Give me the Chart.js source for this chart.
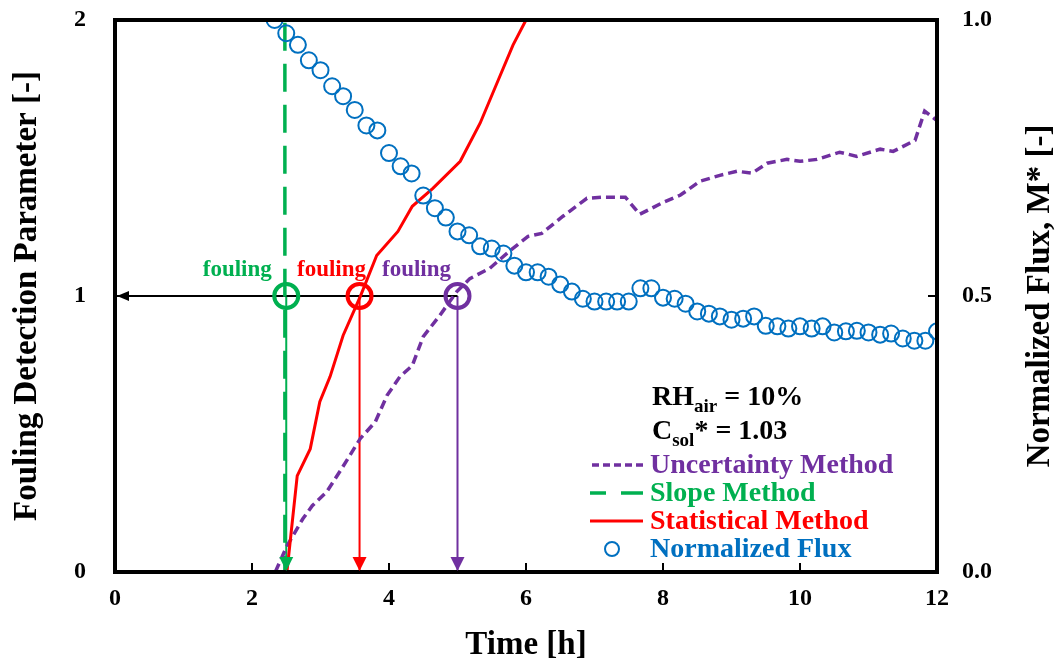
<!DOCTYPE html>
<html>
<head>
<meta charset="utf-8">
<title>Fouling Detection</title>
<script src="https://cdn.jsdelivr.net/npm/chart.js@4.4.1/dist/chart.umd.min.js"></script>
<style>
    html, body { margin: 0; padding: 0; background: #fff; }
    #contenedor { width: 1058px; height: 666px; }
</style>
</head>
<body>
<div id="contenedor"><canvas id="graficaFouling" width="1058" height="666"></canvas></div>
<script>
// Gráfica de detección de fouling: tres métodos + flujo normalizado

// Flujo normalizado M* (eje derecho), un punto cada ~10 min
const tiemposFlujo = [
    2.33, 2.50, 2.67, 2.83, 3.00, 3.17, 3.33, 3.50, 3.67, 3.83,
    4.00, 4.17, 4.33, 4.50, 4.67, 4.83, 5.00, 5.17, 5.33, 5.50,
    5.67, 5.83, 6.00, 6.17, 6.33, 6.50, 6.67, 6.83, 7.00, 7.17,
    7.33, 7.50, 7.67, 7.83, 8.00, 8.17, 8.33, 8.50, 8.67, 8.83,
    9.00, 9.17, 9.33, 9.50, 9.67, 9.83, 10.00, 10.17, 10.33, 10.50,
    10.67, 10.83, 11.00, 11.17, 11.33, 11.50, 11.67, 11.83, 12.00
];
const flujoNormalizado = [
    1.000, 0.976, 0.955, 0.927, 0.909, 0.880, 0.862, 0.837, 0.809, 0.800,
    0.759, 0.735, 0.722, 0.682, 0.659, 0.642, 0.617, 0.610, 0.590, 0.586,
    0.577, 0.555, 0.543, 0.543, 0.535, 0.521, 0.508, 0.495, 0.490, 0.490,
    0.490, 0.490, 0.514, 0.514, 0.497, 0.495, 0.486, 0.472, 0.468, 0.463,
    0.457, 0.459, 0.463, 0.446, 0.445, 0.441, 0.445, 0.441, 0.445, 0.434,
    0.436, 0.437, 0.434, 0.430, 0.432, 0.423, 0.419, 0.419, 0.436
];

// Método de incertidumbre (eje izquierdo)
const tiemposIncert = [
    2.34, 2.51, 2.74, 2.88, 3.09, 3.28, 3.58, 3.80, 3.97, 4.16,
    4.34, 4.50, 4.74, 4.99, 5.18, 5.47, 5.77, 6.03, 6.23, 6.54,
    6.89, 7.12, 7.45, 7.66, 8.00, 8.25, 8.54, 8.83, 9.08, 9.30,
    9.52, 9.81, 10.00, 10.25, 10.58, 10.83, 11.17, 11.36, 11.68, 11.82, 11.99
];
const valoresIncert = [
    0.000, 0.094, 0.192, 0.240, 0.290, 0.363, 0.483, 0.544, 0.639, 0.708,
    0.748, 0.853, 0.929, 1.016, 1.063, 1.100, 1.165, 1.216, 1.227, 1.289,
    1.354, 1.358, 1.358, 1.296, 1.339, 1.365, 1.416, 1.437, 1.452, 1.445,
    1.481, 1.495, 1.488, 1.495, 1.521, 1.506, 1.532, 1.524, 1.564, 1.670, 1.637
];

// Método de pendiente: salta de 0 a fuera de escala (se traza de arriba hacia abajo)
const tiemposPendiente = [2.48, 2.48];
const valoresPendiente = [1.99, 0];

// Método estadístico
const tiemposEstad = [
    2.51, 2.66, 2.85, 2.99, 3.14, 3.33, 3.58, 3.82, 4.13, 4.34,
    4.64, 5.04, 5.33, 5.62, 5.81, 6.00
];
const valoresEstad = [
    0.000, 0.348, 0.446, 0.617, 0.708, 0.857, 0.998, 1.147, 1.234, 1.325,
    1.390, 1.488, 1.626, 1.797, 1.909, 2.000
];

// Instantes de detección (parámetro = 1) por método
const metodosDeteccion = ['Slope', 'Statistical', 'Uncertainty'];
const tiemposDeteccion = [2.50, 3.57, 5.00];
const umbralDeteccion = 1;

// Ticks de los ejes
const ticksX = [0, 2, 4, 6, 8, 10, 12];
const ticksIzq = [0, 1, 2];
const ticksDer = [0.0, 0.5, 1.0];

const VERDE = '#00B050', ROJO = '#FF0000', MORADO = '#7030A0', AZUL = '#0070C0';
const coloresDeteccion = [VERDE, ROJO, MORADO];
const desplazEtiqueta = [-49, -28, -41];   // centro del texto "fouling" respecto al círculo
const SERIF = '"Liberation Serif", "Times New Roman", serif';

function puntos(xs, ys) {
    return xs.map((t, i) => ({ x: t, y: ys[i] }));
}

// Flechas de lectura: horizontal hasta el eje y verticales hasta el eje de tiempo
const datasetsFlechas = [{
    data: [{ x: tiemposDeteccion[2], y: umbralDeteccion }, { x: 0, y: umbralDeteccion }],
    showLine: true, borderColor: '#000', borderWidth: 2, pointRadius: 0, order: 6
}].concat(tiemposDeteccion.map((t, i) => ({
    data: [{ x: t, y: umbralDeteccion }, { x: t, y: 0 }],
    showLine: true, borderColor: coloresDeteccion[i], borderWidth: 2, pointRadius: 0, order: 6
})));

function dibujarTexto(ctx, partes, x, y) {
    // partes: [texto, tamaño, desplazamiento vertical]
    let px = x;
    partes.forEach(([txt, tam, dy]) => {
        ctx.font = 'bold ' + tam + 'px ' + SERIF;
        ctx.fillText(txt, px, y + dy);
        px += ctx.measureText(txt).width;
    });
}

const pluginDecoracion = {
    id: 'decoracion',
    afterDatasetsDraw(chart) {
        const { ctx, chartArea: a, scales: { x, y, y2 } } = chart;
        ctx.save();

        // marco de la gráfica
        ctx.strokeStyle = '#000';
        ctx.lineWidth = 4;
        ctx.strokeRect(a.left, a.top, a.right - a.left, a.bottom - a.top);

        // marcas hacia adentro
        ctx.lineWidth = 2;
        ctx.beginPath();
        ticksX.slice(1, -1).forEach(t => {
            const px = x.getPixelForValue(t);
            ctx.moveTo(px, a.bottom);
            ctx.lineTo(px, a.bottom - 9);
        });
        const py1 = y.getPixelForValue(1);
        ctx.moveTo(a.left, py1); ctx.lineTo(a.left + 9, py1);
        const py05 = y2.getPixelForValue(0.5);
        ctx.moveTo(a.right, py05); ctx.lineTo(a.right - 9, py05);
        ctx.stroke();

        // puntas de flecha
        const yCero = y.getPixelForValue(0);
        tiemposDeteccion.forEach((t, i) => {
            const px = x.getPixelForValue(t);
            ctx.fillStyle = coloresDeteccion[i];
            ctx.beginPath();
            ctx.moveTo(px, yCero - 1);
            ctx.lineTo(px - 7, yCero - 15);
            ctx.lineTo(px + 7, yCero - 15);
            ctx.closePath();
            ctx.fill();
        });
        const pyU = y.getPixelForValue(umbralDeteccion);
        const pxIzq = x.getPixelForValue(0) + 2;
        ctx.fillStyle = '#000';
        ctx.beginPath();
        ctx.moveTo(pxIzq, pyU);
        ctx.lineTo(pxIzq + 12, pyU - 5);
        ctx.lineTo(pxIzq + 12, pyU + 5);
        ctx.closePath();
        ctx.fill();

        // etiquetas "fouling"
        ctx.textAlign = 'center';
        ctx.textBaseline = 'alphabetic';
        ctx.font = 'bold 23px ' + SERIF;
        tiemposDeteccion.forEach((t, i) => {
            ctx.fillStyle = coloresDeteccion[i];
            ctx.fillText('fouling', x.getPixelForValue(t) + desplazEtiqueta[i], pyU - 20);
        });

        // título del eje derecho, leído de abajo hacia arriba
        ctx.save();
        ctx.translate(1040, (a.top + a.bottom) / 2);
        ctx.rotate(-Math.PI / 2);
        ctx.fillStyle = '#000';
        ctx.textBaseline = 'middle';
        ctx.font = 'bold 33px ' + SERIF;
        ctx.fillText('Normalized Flux, M* [-]', 0, 0);
        ctx.restore();

        // condiciones del ensayo
        ctx.textAlign = 'left';
        ctx.fillStyle = '#000';
        dibujarTexto(ctx, [['RH', 28, 0], ['air', 19, 7], [' = 10%', 28, 0]], 652, 405);
        dibujarTexto(ctx, [['C', 28, 0], ['sol', 19, 7], ['* = 1.03', 28, 0]], 652, 439);

        // leyenda
        const filas = [
            { texto: 'Uncertainty Method', color: MORADO, dash: [7, 4], ancho: 3.5 },
            { texto: 'Slope Method', color: VERDE, dash: [22, 15], ancho: 3.5 },
            { texto: 'Statistical Method', color: ROJO, dash: [], ancho: 3 },
            { texto: 'Normalized Flux', color: AZUL, circulo: true }
        ];
        ctx.textBaseline = 'middle';
        filas.forEach((f, i) => {
            const cy = 465 + i * 28;
            ctx.strokeStyle = f.color;
            if (f.circulo) {
                ctx.lineWidth = 2;
                ctx.beginPath();
                ctx.arc(612, cy, 7, 0, Math.PI * 2);
                ctx.stroke();
            } else {
                ctx.lineWidth = f.ancho;
                ctx.setLineDash(f.dash);
                ctx.beginPath();
                ctx.moveTo(643, cy);
                ctx.lineTo(590, cy);
                ctx.stroke();
                ctx.setLineDash([]);
            }
            ctx.fillStyle = f.color;
            ctx.font = 'bold 28px ' + SERIF;
            ctx.fillText(f.texto, 650, cy + 1);
        });
        ctx.restore();
    }
};

const fuenteTicks = { family: SERIF, weight: 'bold', size: 24 };
const fuenteTitulo = { family: SERIF, weight: 'bold', size: 33 };

// el área de trazado arranca a 20 px del borde superior
function fijarPaddingVertical(s) {
    s.paddingTop = 20;
    s.paddingBottom = 0;
}

new Chart(document.getElementById('graficaFouling').getContext('2d'), {
    type: 'scatter',
    data: {
        datasets: [
            {
                label: 'Fouling detection',
                data: tiemposDeteccion.map(t => ({ x: t, y: umbralDeteccion })),
                pointRadius: 12, pointBorderWidth: 4,
                pointBorderColor: coloresDeteccion, pointBackgroundColor: 'rgba(0,0,0,0)',
                order: 0
            },
            {
                label: 'Normalized Flux',
                data: puntos(tiemposFlujo, flujoNormalizado),
                yAxisID: 'y2',
                pointRadius: 8, pointBorderWidth: 2,
                pointBorderColor: AZUL, pointBackgroundColor: 'rgba(0,0,0,0)',
                order: 1
            },
            {
                label: 'Statistical Method',
                data: puntos(tiemposEstad, valoresEstad),
                showLine: true, borderColor: ROJO, borderWidth: 3, pointRadius: 0,
                order: 2
            },
            {
                label: 'Uncertainty Method',
                data: puntos(tiemposIncert, valoresIncert),
                showLine: true, borderColor: MORADO, borderWidth: 3.5, borderDash: [9, 5],
                pointRadius: 0, order: 3
            },
            {
                label: 'Slope Method',
                data: puntos(tiemposPendiente, valoresPendiente),
                showLine: true, borderColor: VERDE, borderWidth: 3.5, borderDash: [28, 13],
                pointRadius: 0, order: 4
            }
        ].concat(datasetsFlechas)
    },
    options: {
        responsive: false,
        animation: false,
        events: [],
        layout: { padding: 0 },
        plugins: { legend: { display: false }, tooltip: { enabled: false } },
        scales: {
            x: {
                type: 'linear', min: 0, max: 12,
                afterBuildTicks: s => { s.ticks = ticksX.map(v => ({ value: v })); },
                ticks: { font: fuenteTicks, color: '#000', padding: 12 },
                grid: { display: false, drawTicks: false },
                border: { display: false },
                title: { display: true, text: 'Time [h]', font: fuenteTitulo, color: '#000', padding: { top: 0, bottom: 1 } },
                afterFit: s => { s.height = 94; }
            },
            y: {
                type: 'linear', position: 'left', min: 0, max: 2,
                afterBuildTicks: s => { s.ticks = ticksIzq.map(v => ({ value: v })); },
                ticks: { font: fuenteTicks, color: '#000', padding: 29 },
                grid: { display: false, drawTicks: false },
                border: { display: false },
                title: { display: true, text: 'Fouling Detection Parameter [-]', font: fuenteTitulo, color: '#000', padding: { top: 8, bottom: 0 } },
                afterFit: s => { s.width = 115; fijarPaddingVertical(s); }
            },
            y2: {
                type: 'linear', position: 'right', min: 0, max: 1,
                afterBuildTicks: s => { s.ticks = ticksDer.map(v => ({ value: v })); },
                ticks: { font: fuenteTicks, color: '#000', padding: 25, callback: v => v.toFixed(1) },
                grid: { display: false, drawTicks: false },
                border: { display: false },
                title: { display: false },
                afterFit: s => { s.width = 121; fijarPaddingVertical(s); }
            }
        }
    },
    plugins: [pluginDecoracion]
});
</script>
</body>
</html>
